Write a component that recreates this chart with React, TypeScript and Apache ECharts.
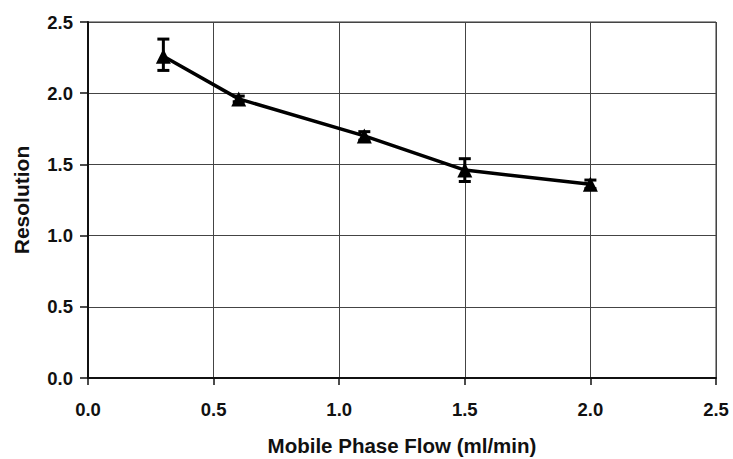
import React, { useEffect, useRef } from "react";
import * as echarts from "echarts";

const flow = [0.3, 0.6, 1.1, 1.5, 2.0];
const resolution = [2.26, 1.96, 1.7, 1.46, 1.36];
const errLow = [2.16, 1.94, 1.67, 1.38, 1.33];
const errHigh = [2.38, 1.98, 1.73, 1.54, 1.39];
const xTicks = ["0.0", "0.5", "1.0", "1.5", "2.0", "2.5"];
const yTicks = ["0.0", "0.5", "1.0", "1.5", "2.0", "2.5"];

const FONT = "'Liberation Sans', Arial, sans-serif";

export default function App() {
  const ref = useRef<HTMLDivElement>(null);
  useEffect(() => {
    if (!ref.current) return;
    const chart = echarts.init(ref.current, null, { renderer: "svg" });
    const errData = flow.map((x, i) => [x, errLow[i], errHigh[i]]);
    chart.setOption({
      animation: false,
      backgroundColor: "#fff",
      grid: {
        left: 88,
        right: 17,
        top: 22,
        bottom: 81,
        show: true,
        borderColor: "#333",
        borderWidth: 1,
        backgroundColor: "transparent",
        containLabel: false,
        outerBoundsMode: "none",
      },
      xAxis: {
        type: "value",
        min: 0,
        max: 2.5,
        interval: 0.5,
        name: "Mobile Phase Flow (ml/min)",
        nameLocation: "middle",
        nameGap: 57,
        nameTextStyle: { fontFamily: FONT, fontWeight: "bold", fontSize: 20.5, color: "#111" },
        axisLine: { onZero: false, lineStyle: { color: "#111", width: 2 } },
        axisTick: { show: true, length: 7, lineStyle: { color: "#111", width: 1.5 } },
        axisLabel: {
          margin: 22,
          fontFamily: FONT,
          fontWeight: "bold",
          fontSize: 18.5,
          color: "#111",
          formatter: (v: number) => xTicks[Math.round(v / 0.5)] ?? v.toFixed(1),
        },
        splitLine: { show: true, lineStyle: { color: "#444", width: 1 } },
      },
      yAxis: {
        type: "value",
        min: 0,
        max: 2.5,
        interval: 0.5,
        name: "Resolution",
        nameLocation: "middle",
        nameGap: 56,
        nameTextStyle: { fontFamily: FONT, fontWeight: "bold", fontSize: 21, color: "#111" },
        axisLine: { show: true, onZero: false, lineStyle: { color: "#111", width: 2 } },
        axisTick: { show: true, length: 8, lineStyle: { color: "#111", width: 1.5 } },
        axisLabel: {
          margin: 15,
          fontFamily: FONT,
          fontWeight: "bold",
          fontSize: 18.5,
          color: "#111",
          formatter: (v: number) => yTicks[Math.round(v / 0.5)] ?? v.toFixed(1),
        },
        splitLine: { show: true, lineStyle: { color: "#444", width: 1 } },
      },
      series: [
        {
          type: "line",
          data: flow.map((x, i) => [x, resolution[i]]),
          symbol: "triangle",
          symbolSize: 15,
          lineStyle: { color: "#000", width: 3.5 },
          itemStyle: { color: "#000" },
          z: 3,
        },
        {
          type: "custom",
          data: errData,
          z: 4,
          renderItem: (params: any, api: any) => {
            const x = api.value(0);
            const lo = api.coord([x, api.value(1)]);
            const hi = api.coord([x, api.value(2)]);
            const w = 6;
            const style = { stroke: "#000", lineWidth: 3 };
            return {
              type: "group",
              children: [
                { type: "line", shape: { x1: lo[0], y1: lo[1], x2: hi[0], y2: hi[1] }, style },
                { type: "line", shape: { x1: hi[0] - w, y1: hi[1], x2: hi[0] + w, y2: hi[1] }, style },
                { type: "line", shape: { x1: lo[0] - w, y1: lo[1], x2: lo[0] + w, y2: lo[1] }, style },
              ],
            };
          },
        },
      ],
    });
    return () => chart.dispose();
  }, []);
  return <div ref={ref} style={{ width: 733, height: 459, position: "absolute", left: 0, top: 0 }} />;
}
